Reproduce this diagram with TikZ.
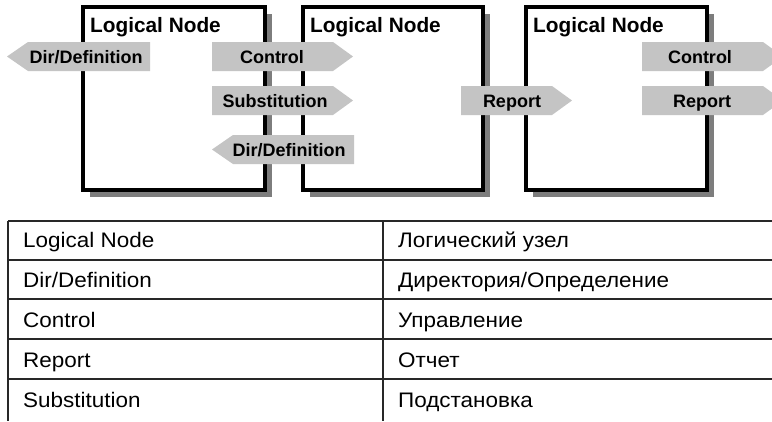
\documentclass[tikz,border=0pt]{standalone}
\usepackage{fontspec}
\setmainfont{Liberation Sans}
\newfontfamily\tablefont{Liberation Sans}[FakeStretch=1.07]
\usetikzlibrary{shadows}
\definecolor{arrowgray}{RGB}{196,196,196}
\definecolor{shadowgray}{RGB}{125,125,125}
\definecolor{rulegray}{RGB}{40,40,40}
\newcommand{\rarrowshape}[4]{%
  \fill[arrowgray] (#1,#3) -- (#2,#3) -- ({#2+20},{(#3+#4)/2}) -- (#2,#4) -- (#1,#4) -- cycle;}
\newcommand{\larrowshape}[4]{%
  \fill[arrowgray] (#2,#3) -- (#1,#3) -- ({#1-21},{(#3+#4)/2}) -- (#1,#4) -- (#2,#4) -- cycle;}
\begin{document}
\begin{tikzpicture}[x=1pt,y=-1pt,
  lnbox/.style={draw=black,line width=3.5pt,fill=white,outer sep=0pt,inner sep=0pt,
    drop shadow={shadow xshift=7pt,shadow yshift=-7pt,fill=shadowgray,opacity=1}},
  lbl/.style={font=\fontsize{18}{20}\selectfont\bfseries,inner sep=0pt,anchor=base},
  ttl/.style={font=\fontsize{20.8}{23}\selectfont\bfseries,inner sep=0pt,anchor=base west},
  cell/.style={font=\tablefont\fontsize{21}{24}\selectfont,inner sep=0pt,anchor=base west},
  tline/.style={line width=1.3pt,draw=rulegray}]
\useasboundingbox (0,0) rectangle (772,421);
\fill[white] (0,0) rectangle (772,421);
\clip (0,0) rectangle (772,421);
% logical node boxes
\node[lnbox,minimum width=182pt,minimum height=183pt] (box1) at (174,98.5) {};
\node[lnbox,minimum width=180pt,minimum height=183pt] (box2) at (393,98.5) {};
\node[lnbox,minimum width=181pt,minimum height=183pt] (box3) at (616.5,98.5) {};
\node[ttl] (t1) at (90,32) {Logical Node};
\node[ttl] (t2) at (310,32) {Logical Node};
\node[ttl] (t3) at (533,32) {Logical Node};
% arrows
\larrowshape{28}{150}{42}{71}
\node[lbl] (a1) at (86,63) {Dir/Definition};
\rarrowshape{212}{333}{42}{71}
\node[lbl] (a2) at (272,63) {Control};
\rarrowshape{212}{333}{86}{115}
\node[lbl] (a3) at (275,107) {Substitution};
\larrowshape{233}{354}{135}{164}
\node[lbl] (a4) at (289,156) {Dir/Definition};
\rarrowshape{461}{552}{86}{115}
\node[lbl] (a5) at (512,107) {Report};
\rarrowshape{642}{763}{42}{71}
\node[lbl] (a6) at (700,63) {Control};
\rarrowshape{642}{763}{86}{115}
\node[lbl] (a7) at (702,107) {Report};
% table
\foreach \yy in {221,260,299,339,379} \draw[tline] (8,\yy) -- (772,\yy);
\draw[tline] (8,221) -- (8,421);
\draw[tline] (383,221) -- (383,421);
\node[cell] (r1a) at (23,247) {Logical Node};
\node[cell] (r2a) at (23,287) {Dir/Definition};
\node[cell] (r3a) at (23,327) {Control};
\node[cell] (r4a) at (23,367) {Report};
\node[cell] (r5a) at (23,407) {Substitution};
\node[cell] (r1b) at (398,247) {Логический узел};
\node[cell] (r2b) at (398,287) {Директория/Определение};
\node[cell] (r3b) at (398,327) {Управление};
\node[cell] (r4b) at (398,367) {Отчет};
\node[cell] (r5b) at (398,407) {Подстановка};
\end{tikzpicture}
\end{document}
